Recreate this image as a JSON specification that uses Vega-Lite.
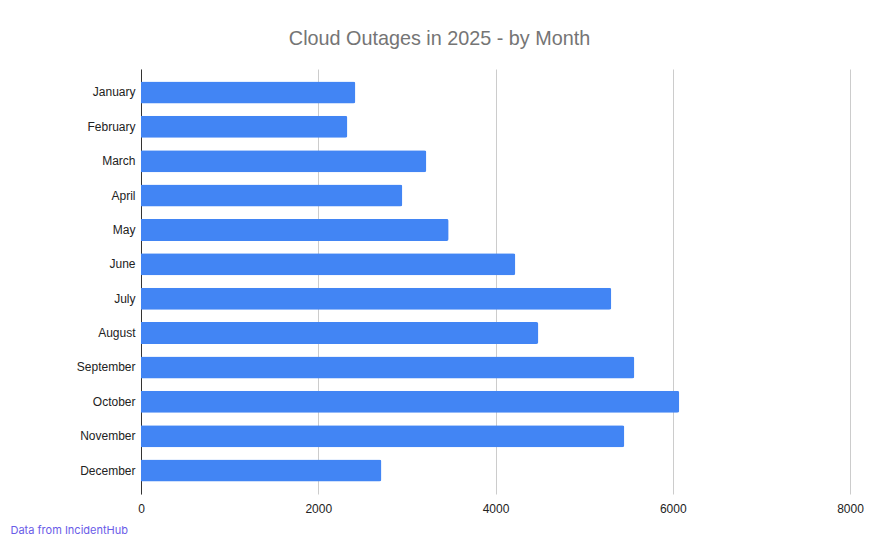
{
  "$schema": "https://vega.github.io/schema/vega-lite/v6.json",
  "width": 709,
  "height": 425,
  "autosize": {"type": "none"},
  "padding": {"left": 141, "top": 69, "right": 28, "bottom": 49},
  "background": "#ffffff",
  "title": {
    "text": "Cloud Outages in 2025 - by Month",
    "font": "Liberation Sans",
    "fontSize": 19.8,
    "fontWeight": "normal",
    "color": "#757575",
    "anchor": "middle",
    "dx": -56,
    "offset": 20
  },
  "data": {
    "values": [
      {"month": "January", "outages": 2418},
      {"month": "February", "outages": 2328},
      {"month": "March", "outages": 3219},
      {"month": "April", "outages": 2948},
      {"month": "May", "outages": 3471},
      {"month": "June", "outages": 4223},
      {"month": "July", "outages": 5306},
      {"month": "August", "outages": 4483},
      {"month": "September", "outages": 5566},
      {"month": "October", "outages": 6073},
      {"month": "November", "outages": 5453},
      {"month": "December", "outages": 2712}
    ]
  },
  "mark": {"type": "bar", "color": "#4285f4", "cornerRadiusEnd": 2},
  "encoding": {
    "y": {
      "field": "month",
      "type": "nominal",
      "sort": null,
      "scale": {"paddingInner": 0.36, "paddingOuter": 0.36},
      "axis": {
        "title": null,
        "ticks": false,
        "domainColor": "#333333",
        "labelFont": "Liberation Sans",
        "labelFontSize": 12,
        "labelColor": "#222222",
        "labelPadding": 6
      }
    },
    "x": {
      "field": "outages",
      "type": "quantitative",
      "scale": {"domain": [0, 8000], "nice": false},
      "axis": {
        "values": [0, 2000, 4000, 6000, 8000],
        "format": "d",
        "labelFlush": false,
        "domain": false,
        "ticks": false,
        "gridColor": "#cccccc",
        "labelFont": "Liberation Sans",
        "labelFontSize": 12,
        "labelColor": "#222222",
        "labelPadding": 9,
        "title": "Data from IncidentHub",
        "titleFont": "Inter",
        "titleFontSize": 11,
        "titleFontWeight": "normal",
        "titleColor": "#6a5ce8",
        "titleAnchor": "start",
        "titleAlign": "left",
        "titleBaseline": "alphabetic",
        "titleX": -131,
        "titleY": 39
      }
    }
  },
  "config": {"view": {"stroke": null}}
}
